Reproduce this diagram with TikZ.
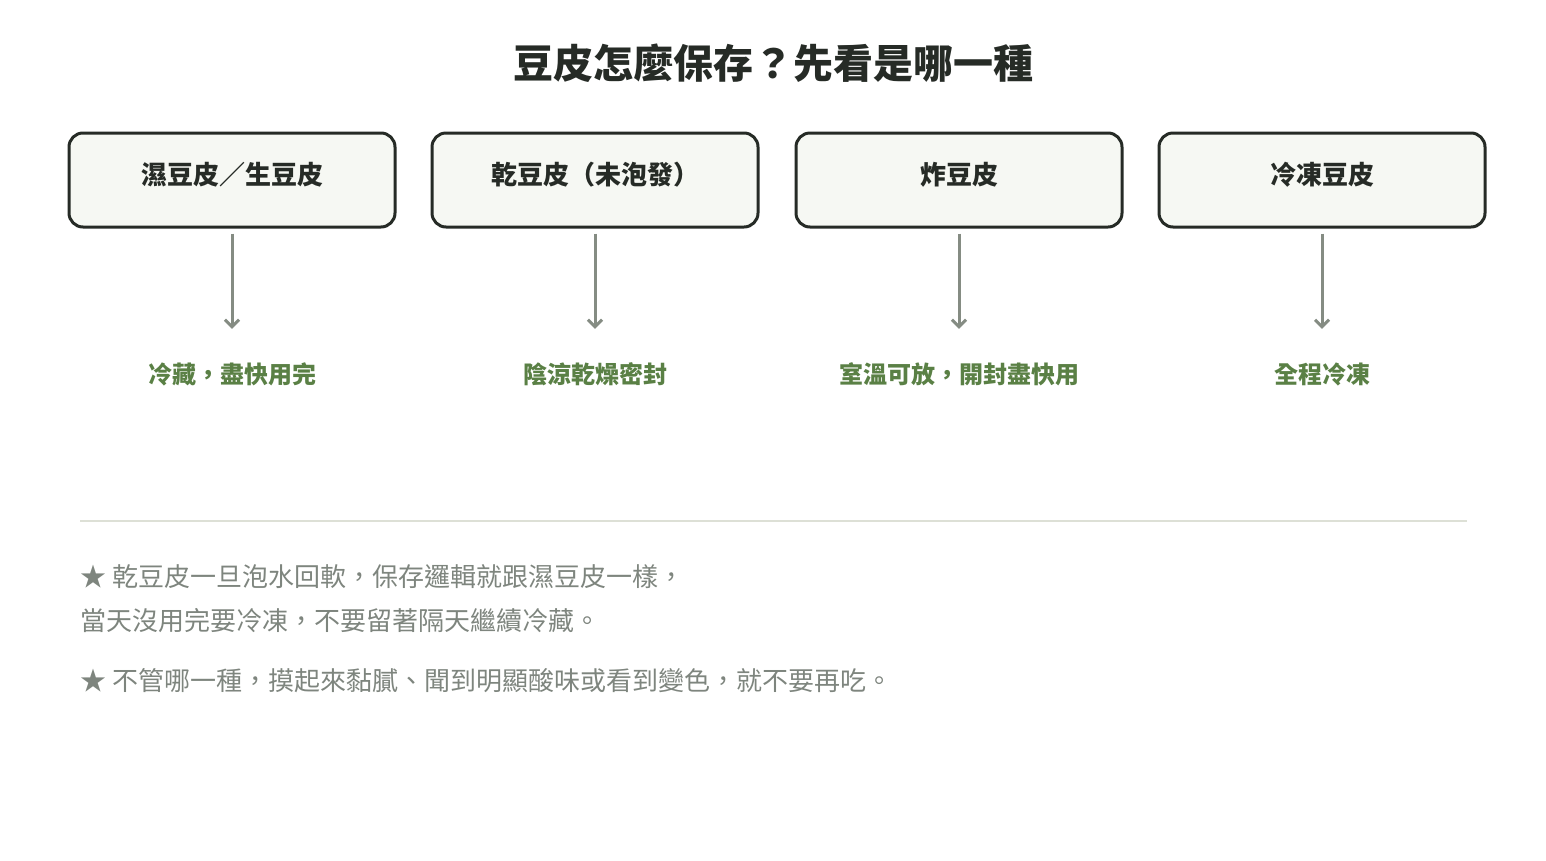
\documentclass[tikz,border=0pt]{standalone}
\usepackage{fontspec}
\newfontfamily\cjk{Noto Sans CJK TC}
\definecolor{ink}{HTML}{262B26}
\definecolor{boxfill}{HTML}{F6F8F3}
\definecolor{arrowgray}{HTML}{858C83}
\definecolor{leafgreen}{HTML}{5A8045}
\definecolor{rulegray}{HTML}{DDE0D6}
\definecolor{notegray}{HTML}{7E857E}
\usetikzlibrary{arrows.meta}
\tikzset{
  kind/.style={draw=ink, line width=3pt, fill=boxfill, rounded corners=14pt,
    minimum width=326pt, minimum height=94pt, inner sep=0pt},
  kindtext/.style={font=\cjk\bfseries\fontsize{26}{30}\selectfont, text=ink},
  tip/.style={font=\cjk\bfseries\fontsize{24}{28}\selectfont, text=leafgreen},
  flow/.style={draw=arrowgray, line width=3pt, shorten >=30pt,
    -{Straight Barb[length=7pt,width=14pt,line width=3pt]}},
  note/.style={font=\cjk\fontsize{26}{30}\selectfont, text=notegray, anchor=west, inner sep=0pt},
}
\begin{document}
\begin{tikzpicture}[x=1pt,y=-1pt]
\useasboundingbox (0,0) rectangle (1546,860);
\node [font=\cjk\bfseries\fontsize{40}{46}\selectfont, text=ink] (title) at (773,63) {豆皮怎麼保存？先看是哪一種};
% four kinds of tofu skin
\foreach \n/\x/\kname/\ktip in {wet/232/濕豆皮／生豆皮/冷藏，盡快用完,
                                dry/595/乾豆皮（未泡發）/陰涼乾燥密封,
                                fried/959/炸豆皮/室溫可放，開封盡快用,
                                frozen/1322/冷凍豆皮/全程冷凍}{
  \node [kind] (\n) at (\x,180) {};
  \node [kindtext] (\n-label) at (\x,175) {\kname};
  \node [tip] (\n-tip) at (\x,374) {\ktip};
  \draw [flow] ([yshift=-5pt]\n.south) -- (\n-tip.north);
}
\draw [rulegray, line width=1.5pt] (80,521) -- (1467,521);
\node [note] (note1) at (80,577) {★ 乾豆皮一旦泡水回軟，保存邏輯就跟濕豆皮一樣，};
\node [note] (note2) at (80,621) {當天沒用完要冷凍，不要留著隔天繼續冷藏。};
\node [note] (note3) at (80,681) {★ 不管哪一種，摸起來黏膩、聞到明顯酸味或看到變色，就不要再吃。};
\end{tikzpicture}
\end{document}
